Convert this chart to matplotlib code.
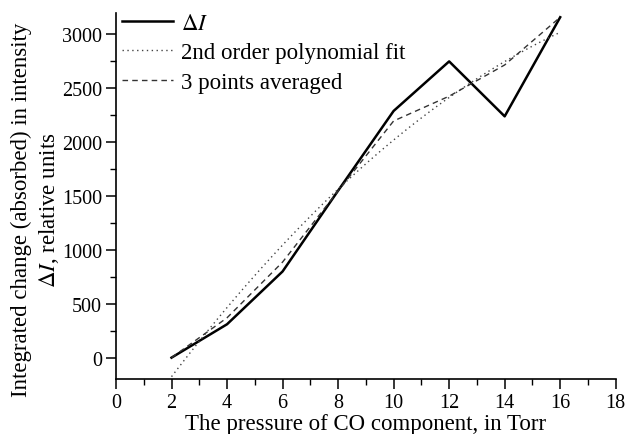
import numpy as np
import matplotlib
matplotlib.use("Agg")
import matplotlib.pyplot as plt

plt.rcParams['font.family'] = ['Liberation Serif', 'DejaVu Serif']
plt.rcParams['mathtext.fontset'] = 'stix'

# data
pressure = [2, 4, 6, 8, 10, 12, 14, 16]
delta_i = [0, 310, 800, 1550, 2290, 2750, 2240, 3160]
averaged = [0, 370, 887, 1547, 2197, 2427, 2717, 3160]

# 2nd order polynomial fit of delta_i
coef = np.polyfit(pressure, delta_i, 2)
x_fit = np.linspace(2, 16, 100)
y_fit = np.polyval(coef, x_fit)

fig = plt.figure(figsize=(6.27, 4.35), dpi=100)
ax = fig.add_axes([0.185, 0.126, 0.797, 0.842])

ax.plot(pressure, delta_i, color='black', lw=1.8, label=r'$\Delta I$')
ax.plot(x_fit, y_fit, color='#444444', lw=1.0, ls=(0, (1, 2.5)),
        label='2nd order polynomial fit')
ax.plot(pressure, averaged, color='#333333', lw=1.0, ls=(0, (4, 3)),
        label='3 points averaged')

ax.set_xlim(0, 18)
ax.set_xticks(range(0, 19, 2))
ax.set_xticks(range(0, 19, 1), minor=True)
ax.set_yticks(range(0, 3001, 500))
ax.set_yticks(range(-250, 3201, 250), minor=True)
ax.set_ylim(-200, 3200)

for s in ['top', 'right']:
    ax.spines[s].set_visible(False)
for s in ['left', 'bottom']:
    ax.spines[s].set_linewidth(1.2)

ax.tick_params(which='major', direction='out', length=7, width=1.1, labelsize=14.5, pad=3)
ax.tick_params(which='minor', direction='out', length=4, width=1.0)

ax.set_xlabel('The pressure of CO component, in Torr', fontsize=16.5, labelpad=1)
ax.set_ylabel('Integrated change (absorbed) in intensity\n' + r'$\Delta I$, relative units',
              fontsize=16.5, linespacing=1.3)
ax.yaxis.set_label_coords(-0.11, 0.464)

ax.legend(loc='upper left', frameon=False, fontsize=16.5, handlelength=2.2,
          borderaxespad=0.0, borderpad=0.1, labelspacing=0.35, handletextpad=0.35,
          bbox_to_anchor=(0.008, 1.005))

fig.savefig('out.png', dpi=100)
